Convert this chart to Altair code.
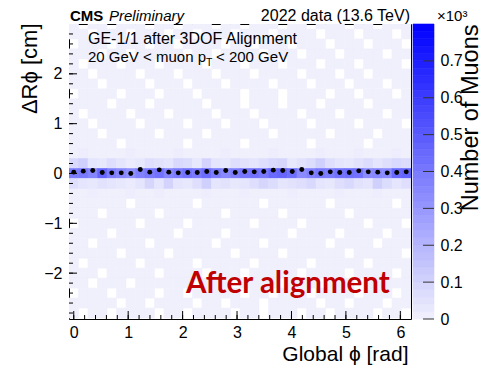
import altair as alt
import pandas as pd
import numpy as np

# ---------------- data ----------------
phi_deg = list(range(0, 360, 10))          # 36 phi bin centres (deg)
bin_w_deg = 10
dr_bin = 0.2                               # Delta R phi bin width (cm)

# counts in central rows (dR = +0.2, 0, -0.2)
row_p02 = [80, 110, 40, 30, 60, 40, 20, 30, 60, 50, 40, 80, 70, 30, 100, 40, 30, 60,
           50, 40, 60, 80, 90, 30, 50, 70, 110, 60, 40, 30, 50, 70, 40, 60, 80, 70]
row_000 = [390, 400, 360, 460, 380, 350, 320, 370, 400, 420, 360, 390, 420, 400, 440, 390, 350, 380,
           410, 420, 400, 450, 460, 430, 340, 370, 400, 390, 420, 430, 420, 340, 350, 340, 450, 470]
row_m02 = [60, 40, 30, 50, 40, 30, 20, 40, 90, 40, 100, 40, 30, 60, 110, 40, 50, 30,
           40, 60, 90, 70, 40, 50, 60, 80, 40, 30, 60, 80, 50, 40, 110, 70, 40, 60]

# sparse background: '0' empty, '1' a few muons, '2' somewhat more
bg_rows = {
    3.0: "101101110110111011011101101110110111",
    2.8: "110111011101101110111011110111011101",
    2.6: "011101110110111101101110111011101110",
    2.4: "111011011111011011110111011101111011",
    2.2: "101110111011110111011101110111011110",
    2.0: "110111101110111011101111011101101111",
    1.8: "111011110111011101111011101110111011",
    1.6: "011110111011101111011101111011011101",
    1.4: "111101110111110111011101110111101111",
    1.2: "101111011101111011101111011101111011",
    1.0: "110111101111011101110111101111011110",
    0.8: "111011111011110111111011111011110111",
    0.6: "111110111111011111011111101111101111",
    0.4: "121111211112111121111211112111211121",
    -0.4: "112111211211112111211112111121112111",
    -0.6: "111111011111101111110111111011111101",
    -0.8: "111011111011111101111101111110111111",
    -1.0: "011111101111011111101111011111101110",
    -1.2: "111101111110111101111110111101111011",
    -1.4: "110111110111111011110111111011110111",
    -1.6: "111110111101111110111101111110111110",
    -1.8: "101111101111101111101111101111101111",
    -2.0: "111011111011110111011111011110111101",
    -2.2: "110111011111101110111101110111011111",
    -2.4: "011101111011011111011011101111011101",
    -2.6: "111110110111101101110111110110111011",
    -2.8: "101101111011011110110111011011110110",
}
bg_level = {"0": 0, "1": 4, "2": 14}

# profile mean of Delta R phi per phi bin (cm)
mean_dr = [0.027, 0.047, 0.06, 0.02, 0.013, 0.013, 0.0, 0.08, 0.027, 0.073, 0.027, 0.013,
           0.02, 0.02, 0.04, 0.02, 0.06, 0.02, 0.04, 0.033, 0.04, 0.067, 0.06, 0.04,
           0.08, 0.013, 0.0, 0.033, 0.02, 0.02, 0.053, 0.033, 0.027, 0.013, 0.02, 0.033]

x_ticks = [0, 1, 2, 3, 4, 5, 6]
y_ticks = [-2, -1, 0, 1, 2]
cbar_ticks = [0, 100, 200, 300, 400, 500, 600, 700]
cbar_max = 800

# ---------------- build tables ----------------
rad = np.pi / 180.0
rows = []
def add_row(yc, vals):
    for k, v in enumerate(vals):
        if v > 0:
            c = phi_deg[k] * rad
            h = bin_w_deg * rad / 2
            rows.append({"x0": c - h, "x1": c + h, "y0": yc - dr_bin / 2, "y1": yc + dr_bin / 2, "n": v})

for yc, s in bg_rows.items():
    add_row(yc, [bg_level[ch] for ch in s])
add_row(0.2, row_p02)
add_row(0.0, row_000)
add_row(-0.2, row_m02)
heat_df = pd.DataFrame(rows)

prof_df = pd.DataFrame({"phi": [d * rad for d in phi_deg], "m": mean_dr})

xdom = [-5 * rad, 355 * rad]
ydom = [-2.92, 3.0]
W, H = 342, 295

xminor = pd.DataFrame({"v": [round(v, 1) for v in np.arange(0, 6.2, 0.2)]})
xmajor = pd.DataFrame({"v": x_ticks})
yminor = pd.DataFrame({"v": [round(v, 1) for v in np.arange(-2.8, 2.9, 0.2)]})
ymajor = pd.DataFrame({"v": y_ticks})

cb_lo = list(range(0, cbar_max, 20))
cb_df = pd.DataFrame({"lo": cb_lo, "hi": [v + 20 for v in cb_lo], "mid": [v + 10 for v in cb_lo]})
cbt_df = pd.DataFrame({"v": cbar_ticks})

FONT = "Liberation Sans"
color_scale = alt.Scale(domain=[0, cbar_max], range=["#f1f1fd", "#0000ff"], interpolate="rgb", clamp=True)
xs = alt.Scale(domain=xdom, nice=False, zero=False)
ys = alt.Scale(domain=ydom, nice=False, zero=False)

x_axis = alt.Axis(values=x_ticks, format="d", ticks=False, domain=False, grid=False,
                  labelFontSize=16, labelPadding=5, labelFont=FONT, labelColor="black",
                  title="Global ϕ [rad]", titleFontSize=21, titleFont=FONT, titleFontWeight="normal",
                  titleX=339, titleY=41, titleAlign="right", titleBaseline="alphabetic", titleColor="black")
y_axis = alt.Axis(values=y_ticks, format="d", ticks=False, domain=False, grid=False,
                  labelFontSize=16, labelPadding=7, labelFont=FONT, labelColor="black",
                  title="ΔRϕ [cm]", titleFontSize=22, titleFont=FONT, titleFontWeight="normal",
                  titleAngle=270, titleX=-33, titleY=-1, titleAlign="right", titleBaseline="alphabetic",
                  titleColor="black")

heat = alt.Chart(heat_df).mark_rect(clip=True, strokeWidth=0.6).encode(
    x=alt.X("x0:Q", scale=xs, axis=x_axis),
    x2="x1:Q",
    y=alt.Y("y0:Q", scale=ys, axis=y_axis),
    y2="y1:Q",
    color=alt.Color("n:Q", scale=color_scale, legend=None),
    stroke=alt.Stroke("n:Q", scale=color_scale, legend=None),
)

dots = alt.Chart(prof_df).mark_circle(size=24, color="black", opacity=1).encode(
    x=alt.X("phi:Q", scale=xs), y=alt.Y("m:Q", scale=ys))

txminor = alt.Chart(xminor).mark_rule(color="black", strokeWidth=1).encode(
    x=alt.X("v:Q", scale=xs), y=alt.value(H), y2=alt.value(H - 4))
txmajor = alt.Chart(xmajor).mark_rule(color="black", strokeWidth=1).encode(
    x=alt.X("v:Q", scale=xs), y=alt.value(H), y2=alt.value(H - 8))
tyminor = alt.Chart(yminor).mark_rule(color="black", strokeWidth=1).encode(
    y=alt.Y("v:Q", scale=ys), x=alt.value(0), x2=alt.value(4))
tymajor = alt.Chart(ymajor).mark_rule(color="black", strokeWidth=1).encode(
    y=alt.Y("v:Q", scale=ys), x=alt.value(0), x2=alt.value(8))

one = pd.DataFrame({"a": [0]})
def label(txt, x, y, size=16, weight="normal", style="normal", align="left", color="black", font=FONT):
    return alt.Chart(one).mark_text(align=align, baseline="alphabetic", fontSize=size, fontWeight=weight,
                                    fontStyle=style, font=font, color=color).encode(
        x=alt.value(x), y=alt.value(y), text=alt.value(txt))

texts = [
    label("CMS", 1, -3, 15, weight="bold"),
    label("Preliminary", 40, -3, 15, style="italic"),
    label("2022 data (13.6 TeV)", 341, -3, 16, align="right"),
    label("GE-1/1 after 3DOF Alignment", 19, 20, 16),
    label("20 GeV < muon p", 19, 38, 15),
    label("T", 137, 42, 10.5),
    label("< 200 GeV", 147, 38, 15),
    label("×10³", 368, -3, 15),
    label("After alignment", 117, 269, 29.5, weight="bold", color="#c00000", font="Lato"),
]

main = alt.layer(heat, txminor, txmajor, tyminor, tymajor, dots, *texts)

cb_scale = alt.Scale(domain=[0, cbar_max], nice=False, zero=False)
cb_axis = alt.Axis(orient="right", offset=23, values=cbar_ticks, ticks=False, domain=False, grid=False,
                   labelExpr="datum.value == 0 ? '0' : format(datum.value / 1000, '.1f')",
                   labelFontSize=16, labelPadding=6, labelFont=FONT, labelColor="black",
                   title="Number of Muons", titleFontSize=23.5, titleFont=FONT, titleFontWeight="normal",
                   titleAngle=270, titleX=43, titleY=0, titleAlign="right", titleBaseline="alphabetic",
                   titleColor="black")
cbar_rect = alt.Chart(cb_df).mark_rect(strokeWidth=0.6).encode(
    y=alt.Y("lo:Q", scale=cb_scale, axis=cb_axis), y2="hi:Q",
    x=alt.value(344), x2=alt.value(365),
    color=alt.Color("mid:Q", scale=color_scale, legend=None),
    stroke=alt.Stroke("mid:Q", scale=color_scale, legend=None),
)
cbar_tick = alt.Chart(cbt_df).mark_rule(color="#333333", strokeWidth=1).encode(
    y=alt.Y("v:Q", scale=cb_scale), x=alt.value(354), x2=alt.value(365))
cbar = alt.layer(cbar_rect, cbar_tick)

chart = alt.layer(main, cbar).resolve_scale(y="independent").properties(
    width=W, height=H,
    padding={"left": 61, "top": 16, "right": 72, "bottom": 46},
    autosize=alt.AutoSizeParams(type="none"),
).configure_view(stroke="black", strokeWidth=1).configure_axis(grid=False)

chart.save("out.html", embed_options={"renderer": "svg", "actions": False})
